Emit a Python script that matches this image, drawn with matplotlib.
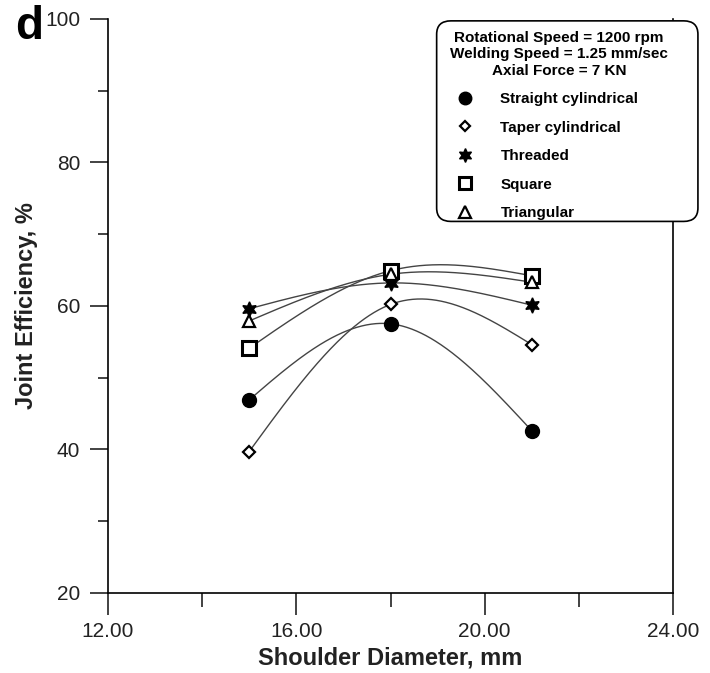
import numpy as np
import matplotlib
matplotlib.use("Agg")
import matplotlib.pyplot as plt
from matplotlib.lines import Line2D
from matplotlib.patches import FancyBboxPatch
from matplotlib.ticker import MultipleLocator

plt.rcParams['font.family'] = ['Liberation Sans', 'DejaVu Sans']

# Data
shoulder_dia = [15, 18, 21]
straight_cyl = [46.9, 57.5, 42.6]
taper_cyl = [39.7, 60.2, 54.6]
threaded = [59.6, 63.2, 60.1]
square = [54.1, 64.9, 64.2]
triangular = [57.9, 64.4, 63.3]

series = [
    ("Straight cylindrical", straight_cyl, dict(marker='o', ms=10, mfc='black', mec='black')),
    ("Taper cylindrical", taper_cyl, dict(marker='D', ms=6, mfc='white', mec='black', mew=1.6)),
    ("Threaded", threaded, dict(marker=(6, 1, 0), ms=11, mfc='black', mec='black')),
    ("Square", square, dict(marker='s', ms=10, mfc='white', mec='black', mew=2.2)),
    ("Triangular", triangular, dict(marker='^', ms=9, mfc='white', mec='black', mew=1.6)),
]


def natural_spline(x, y, xs):
    # natural cubic spline through the points
    x = np.asarray(x, float)
    y = np.asarray(y, float)
    n = len(x)
    h = np.diff(x)
    A = np.zeros((n, n))
    r = np.zeros(n)
    A[0, 0] = A[-1, -1] = 1
    for i in range(1, n - 1):
        A[i, i - 1] = h[i - 1]
        A[i, i] = 2 * (h[i - 1] + h[i])
        A[i, i + 1] = h[i]
        r[i] = 6 * ((y[i + 1] - y[i]) / h[i] - (y[i] - y[i - 1]) / h[i - 1])
    M = np.linalg.solve(A, r)
    out = np.empty_like(xs)
    for j, xv in enumerate(xs):
        i = min(np.searchsorted(x, xv) - 1, n - 2)
        i = max(i, 0)
        a = x[i + 1] - xv
        b = xv - x[i]
        out[j] = (M[i] * a**3 + M[i + 1] * b**3) / (6 * h[i]) \
            + (y[i] / h[i] - M[i] * h[i] / 6) * a + (y[i + 1] / h[i] - M[i + 1] * h[i] / 6) * b
    return out


fig = plt.figure(figsize=(7.10, 6.73), dpi=100)
ax = fig.add_axes([0.152, 0.119, 0.796, 0.853])

xs = np.linspace(15, 21, 300)
for label, vals, style in series:
    ax.plot(xs, natural_spline(shoulder_dia, vals, xs), color='#444444', lw=1.0, zorder=2)
    ax.plot(shoulder_dia, vals, ls='none', zorder=3, **style)

ax.set_xlim(12, 24)
ax.set_ylim(20, 100)
ax.xaxis.set_minor_locator(MultipleLocator(2))
ax.yaxis.set_major_locator(MultipleLocator(20))
ax.yaxis.set_minor_locator(MultipleLocator(10))
ax.set_xticks([12, 16, 20, 24])
ax.set_xticklabels(["12.00", "16.00", "20.00", "24.00"])
ax.spines['top'].set_visible(False)
for s in ax.spines.values():
    s.set_linewidth(1.2)
ax.tick_params(which='both', direction='out', width=1.2, labelsize=15, colors='#222222')
ax.tick_params(axis='x', which='major', length=16, pad=5)
ax.tick_params(axis='x', which='minor', length=10)
ax.tick_params(axis='y', which='major', length=13, pad=7)
ax.tick_params(axis='y', which='minor', length=7)

ax.set_xlabel("Shoulder Diameter, mm", fontsize=17, fontweight='bold', labelpad=4, color='#222222')
ax.set_ylabel("Joint Efficiency, %", fontsize=17, fontweight='bold', labelpad=5, color='#222222')

fig.text(0.022, 0.96, "d", fontsize=33, fontweight='bold', va='center')

# rounded legend box (wider than the legend content, as in the original)
box = FancyBboxPatch((0.622, 0.678), 0.354, 0.284, boxstyle="round,pad=0.007,rounding_size=0.02",
                     transform=fig.transFigure, facecolor='white', edgecolor='black', lw=1.2, zorder=5)
fig.patches.append(box)

handles = [Line2D([], [], ls='none', **style) for _, _, style in series]
labels = [lab for lab, _, _ in series]
leg = fig.legend(handles, labels, loc='upper left', bbox_to_anchor=(0.623, 0.965),
                 title="Rotational Speed = 1200 rpm\nWelding Speed = 1.25 mm/sec\nAxial Force = 7 KN",
                 prop={'weight': 'bold', 'size': 11}, title_fontproperties={'weight': 'bold', 'size': 11},
                 frameon=False, labelspacing=0.95, handletextpad=1.3, borderpad=0.0,
                 markerscale=0.9, handlelength=2.0, alignment='left')
leg.set_zorder(6)
leg.get_title().set_multialignment('center')

fig.savefig("out.png", dpi=100)
